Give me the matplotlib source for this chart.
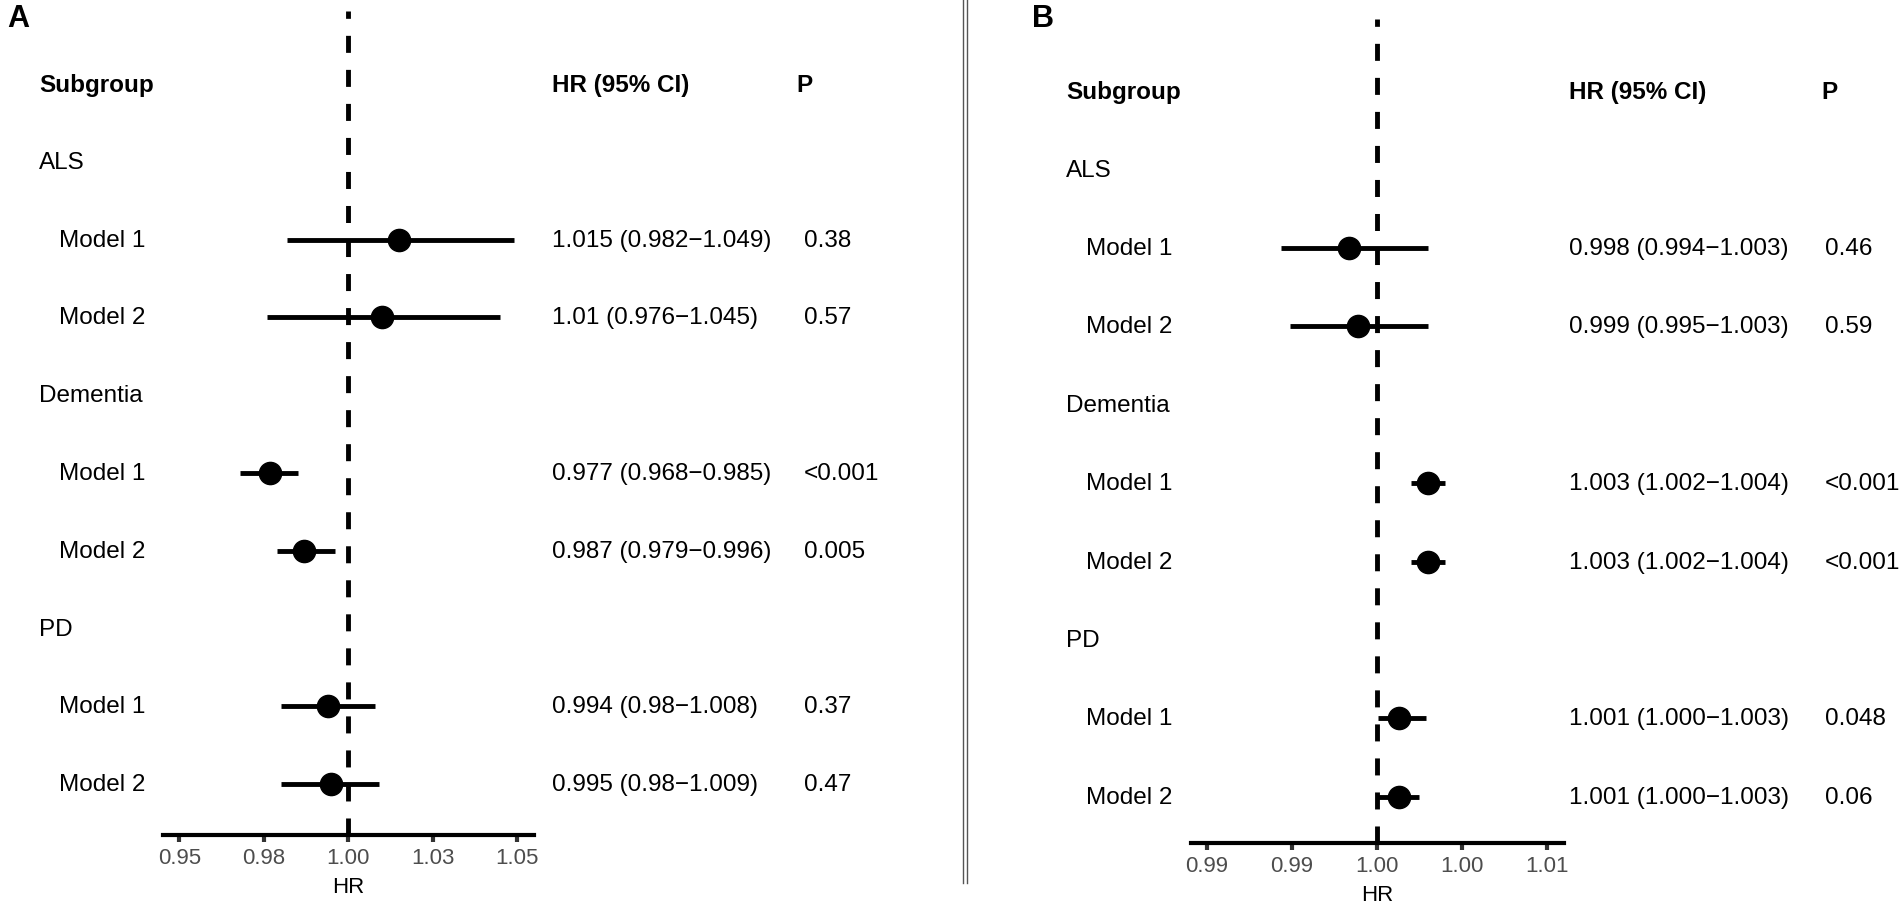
import numpy as np
import matplotlib
matplotlib.use("Agg")
import matplotlib.pyplot as plt
from matplotlib import transforms
from matplotlib.lines import Line2D

plt.rcParams['font.family'] = ['Liberation Sans', 'DejaVu Sans']

# ---------------- data ----------------
row_labels = ["ALS", "Model 1", "Model 2", "Dementia", "Model 1", "Model 2", "PD", "Model 1", "Model 2"]
is_group = [True, False, False, True, False, False, True, False, False]

a_est = [np.nan, 1.015, 1.010, np.nan, 0.977, 0.987, np.nan, 0.994, 0.995]
a_lo = [np.nan, 0.982, 0.976, np.nan, 0.968, 0.979, np.nan, 0.980, 0.980]
a_hi = [np.nan, 1.049, 1.045, np.nan, 0.985, 0.996, np.nan, 1.008, 1.009]
a_hr_text = ["", "1.015 (0.982\u22121.049)", "1.01 (0.976\u22121.045)", "",
             "0.977 (0.968\u22120.985)", "0.987 (0.979\u22120.996)", "",
             "0.994 (0.98\u22121.008)", "0.995 (0.98\u22121.009)"]
a_p = ["", "0.38", "0.57", "", "<0.001", "0.005", "", "0.37", "0.47"]
a_ticks = [0.95, 0.975, 1.0, 1.025, 1.05]
a_ticklabels = ["0.95", "0.98", "1.00", "1.03", "1.05"]

b_est = [np.nan, 0.9984, 0.9989, np.nan, 1.0030, 1.0030, np.nan, 1.0013, 1.0013]
b_lo = [np.nan, 0.9944, 0.9949, np.nan, 1.0020, 1.0020, np.nan, 1.0001, 1.0001]
b_hi = [np.nan, 1.0030, 1.0030, np.nan, 1.0040, 1.0040, np.nan, 1.0029, 1.0025]
b_hr_text = ["", "0.998 (0.994\u22121.003)", "0.999 (0.995\u22121.003)", "",
             "1.003 (1.002\u22121.004)", "1.003 (1.002\u22121.004)", "",
             "1.001 (1.000\u22121.003)", "1.001 (1.000\u22121.003)"]
b_p = ["", "0.46", "0.59", "", "<0.001", "<0.001", "", "0.048", "0.06"]
b_ticks = [0.99, 0.995, 1.0, 1.005, 1.01]
b_ticklabels = ["0.99", "0.99", "1.00", "1.00", "1.01"]

headers = ["Subgroup", "HR (95% CI)", "P"]

# ---------------- figure ----------------
W, H = 1902, 912
fig = plt.figure(figsize=(W / 100, H / 100), dpi=100)

FS = 17.5


def fx(px):
    return px / W


def fy(py):
    return 1 - py / H


def panel(letter, ax_rect, xlim, ylim, est, lo, hi, hr_text, pvals, ticks, ticklabels,
          cols, letter_xy):
    x_sub, x_model, x_hr, x_phead, x_pval = cols
    ax = fig.add_axes(ax_rect)
    ax.set_xlim(*xlim)
    ax.set_ylim(*ylim)
    rows = np.arange(1, len(row_labels) + 1)
    ax.axvline(1.0, color='black', lw=3.5, linestyle=(0, (3.5, 3.5)), zorder=1)
    ax.hlines(rows, lo, hi, color='black', lw=3.5, zorder=2)
    ax.plot(est, rows, 'o', color='black', ms=16, zorder=3)
    for s in ['top', 'left', 'right']:
        ax.spines[s].set_visible(False)
    ax.spines['bottom'].set_linewidth(3.0)
    ax.spines['bottom'].set_color('black')
    ax.set_yticks([])
    ax.set_xticks(ticks)
    ax.set_xticklabels(ticklabels)
    ax.tick_params(axis='x', length=5, width=3, color='#333333', pad=3.5,
                   labelsize=16, labelcolor='#4D4D4D')
    ax.set_xlabel("HR", fontsize=16, color='black', labelpad=6)
    ax.patch.set_alpha(0)

    tr = transforms.blended_transform_factory(fig.transFigure, ax.transData)
    # headers
    ax.text(fx(x_sub), 0, headers[0], transform=tr, fontsize=FS, fontweight='bold',
            va='center', ha='left')
    ax.text(fx(x_hr), 0, headers[1], transform=tr, fontsize=FS, fontweight='bold',
            va='center', ha='left')
    ax.text(fx(x_phead), 0, headers[2], transform=tr, fontsize=FS, fontweight='bold',
            va='center', ha='left')
    for r, lab, g, ht, pv in zip(rows, row_labels, is_group, hr_text, pvals):
        ax.text(fx(x_sub if g else x_model), r, lab, transform=tr, fontsize=FS,
                va='center', ha='left')
        if ht:
            ax.text(fx(x_hr), r, ht, transform=tr, fontsize=FS, va='center', ha='left')
        if pv:
            ax.text(fx(x_pval), r, pv, transform=tr, fontsize=FS, va='center', ha='left')
    fig.text(fx(letter_xy[0]), fy(letter_xy[1]), letter, fontsize=22, fontweight='bold',
             va='center', ha='left')
    return ax


# panel A: rows y(k) = 85.2 + 77.76 k  (pixels)
a_rect = [fx(162.7), fy(836), fx(534) - fx(162.7), fy(12) - fy(836)]
panel("A", a_rect, (0.9451, 1.0550), (9.655, -0.941), a_est, a_lo, a_hi, a_hr_text, a_p,
      a_ticks, a_ticklabels, (39, 59, 552, 796, 804), (7, 19))

# panel B: rows y(k) = 92.2 + 78.4 k
b_rect = [fx(1191), fy(844), fx(1564) - fx(1191), fy(20) - fy(844)]
panel("B", b_rect, (0.98908, 1.01102), (9.59, -0.921), b_est, b_lo, b_hi, b_hr_text, b_p,
      b_ticks, b_ticklabels, (1066, 1086, 1569, 1821, 1825), (1032, 19))

# double separator line
for x in (963, 967):
    fig.add_artist(Line2D([fx(x), fx(x)], [fy(0), fy(884)], transform=fig.transFigure,
                          color='#555555', lw=1.0))

fig.savefig("out.png", dpi=100, facecolor='white')
